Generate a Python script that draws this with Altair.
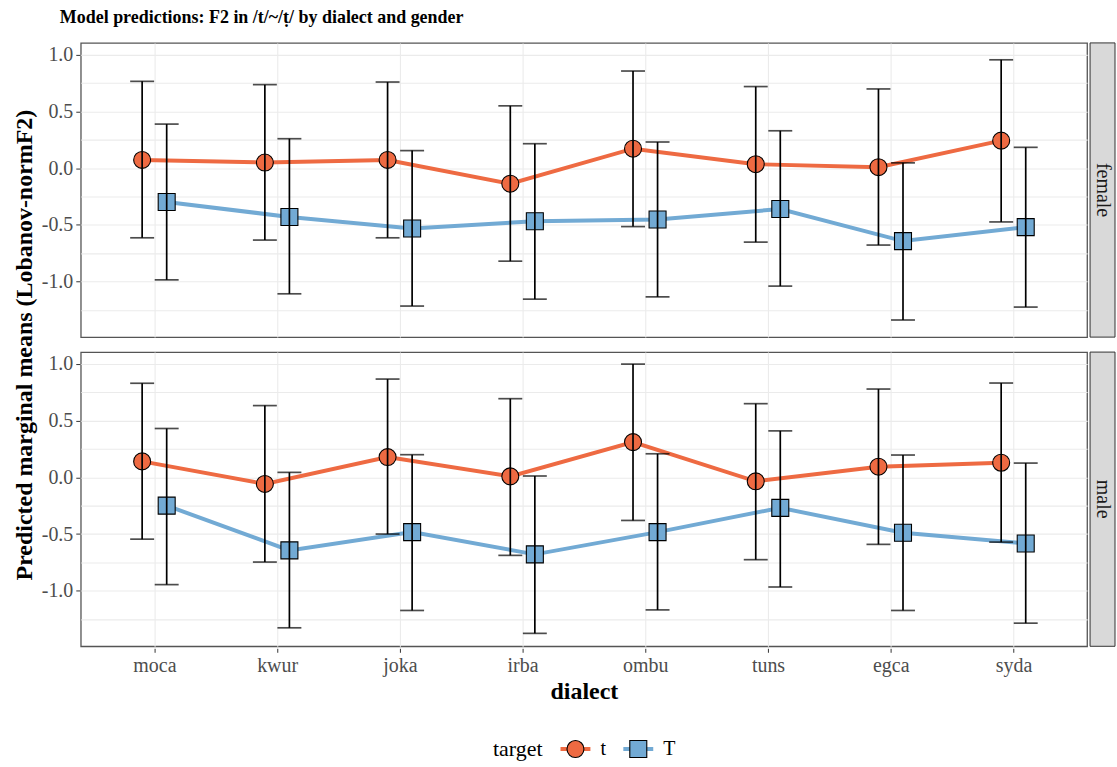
import json
import altair as alt
import pandas as pd

dialects = ["moca", "kwur", "joka", "irba", "ombu", "tuns", "egca", "syda"]
targets = ["t", "T"]
genders = ["female", "male"]

female_t_mean = [0.073, 0.050, 0.073, -0.137, 0.172, 0.035, 0.009, 0.243]
female_t_lower = [-0.614, -0.634, -0.614, -0.820, -0.515, -0.652, -0.678, -0.474]
female_t_upper = [0.766, 0.737, 0.760, 0.550, 0.857, 0.720, 0.699, 0.956]
female_T_mean = [-0.298, -0.430, -0.532, -0.468, -0.453, -0.360, -0.643, -0.520]
female_T_lower = [-0.985, -1.108, -1.216, -1.155, -1.135, -1.040, -1.339, -1.225]
female_T_upper = [0.389, 0.260, 0.155, 0.216, 0.231, 0.330, 0.047, 0.184]

male_t_mean = [0.141, -0.058, 0.179, 0.009, 0.311, -0.035, 0.094, 0.129]
male_t_lower = [-0.545, -0.747, -0.500, -0.688, -0.380, -0.726, -0.591, -0.571]
male_t_upper = [0.830, 0.633, 0.867, 0.694, 0.999, 0.650, 0.779, 0.832]
male_T_mean = [-0.249, -0.644, -0.483, -0.679, -0.483, -0.269, -0.489, -0.583]
male_T_lower = [-0.946, -1.327, -1.174, -1.376, -1.169, -0.967, -1.174, -1.286]
male_T_upper = [0.431, 0.044, 0.200, 0.012, 0.208, 0.410, 0.197, 0.126]

y_all = [-1.25, -1.0, -0.75, -0.5, -0.25, 0.0, 0.25, 0.5, 0.75, 1.0]

series = {
    ("female", "t"): (female_t_mean, female_t_lower, female_t_upper),
    ("female", "T"): (female_T_mean, female_T_lower, female_T_upper),
    ("male", "t"): (male_t_mean, male_t_lower, male_t_upper),
    ("male", "T"): (male_T_mean, male_T_lower, male_T_upper),
}
rows = []
for (g, tg), (m, lo, up) in series.items():
    for i, d in enumerate(dialects):
        rows.append({"gender": g, "target": tg, "dialect": d, "idx": i,
                     "emmean": m[i], "lower": lo[i], "upper": up[i]})
df = pd.DataFrame(rows)

W, H = 1009, 295
LW, LH = 700, 30
ORANGE = "#EE6A42"
BLUE = "#72AAD4"
FONT = "Liberation Serif"
MAJOR_TEST = "indexof([-1,-0.5,0,0.5,1], datum.value) >= 0"

color_scale = alt.Scale(domain=targets, range=[ORANGE, BLUE])
shape_scale = alt.Scale(domain=targets, range=["circle", "square"])

label_expr = json.dumps(dialects) + "[round(datum.value)]"

base = alt.Chart(df).transform_calculate(
    xpos="datum.idx + (datum.target == 't' ? -0.1 : 0.1)"
)

x_enc = alt.X(
    "xpos:Q",
    scale=alt.Scale(domain=[-0.6, 7.6], nice=False, zero=False),
    axis=alt.Axis(values=list(range(len(dialects))), labelExpr=label_expr,
                  title="dialect", tickSize=4, labelPadding=3, titlePadding=4),
)

y_axis = alt.Axis(
    values=y_all,
    labelExpr=f"{MAJOR_TEST} ? replace(format(datum.value, '.1f'), '\u2212', '-') : ''",
    tickOpacity={"condition": {"test": f"!({MAJOR_TEST})", "value": 0}, "value": 1},
    title=None, tickSize=4, labelPadding=3,
)
y_scale = alt.Scale(domain=[-1.49, 1.105], nice=False, zero=False)


def y_enc(field):
    return alt.Y(f"{field}:Q", scale=y_scale, axis=y_axis, title=None)


lines = base.mark_line(strokeWidth=4).encode(
    x=x_enc, y=y_enc("emmean"),
    color=alt.Color("target:N", scale=color_scale, legend=None),
)

points = base.mark_point(filled=True, size=290, stroke="black", strokeWidth=1.1, opacity=1).encode(
    x=x_enc, y=y_enc("emmean"),
    fill=alt.Fill("target:N", scale=color_scale, legend=None),
    shape=alt.Shape("target:N", scale=shape_scale, legend=None),
)

rules = base.mark_rule(color="black", strokeWidth=1.7).encode(
    x=x_enc, y=y_enc("lower"), y2="upper:Q"
)
tick_up = base.mark_tick(orient="horizontal", size=24, thickness=1.7, color="black").encode(
    x=x_enc, y=y_enc("upper")
)
tick_lo = base.mark_tick(orient="horizontal", size=24, thickness=1.7, color="black").encode(
    x=x_enc, y=y_enc("lower")
)

strip_base = base.transform_aggregate(n="count()", groupby=["gender"])
strip_rect = strip_base.mark_rect(fill="#D9D9D9", stroke="#333333", strokeWidth=1).encode(
    x=alt.value(W + 3), x2=alt.value(W + 28), y=alt.value(0), y2=alt.value(H)
)
strip_text = strip_base.mark_text(angle=90, font=FONT, fontSize=20, color="#1A1A1A").encode(
    x=alt.value(W + 16), y=alt.value(H / 2), text="gender:N"
)

layered = alt.layer(lines, points, rules, tick_up, tick_lo, strip_rect, strip_text).properties(
    width=W, height=H
)

panels = layered.facet(
    row=alt.Row(
        "gender:N", sort=genders, title="Predicted marginal means (Lobanov-normF2)",
        header=alt.Header(labels=False, titleFont=FONT, titleFontSize=24, titleFontWeight="bold",
                          titleColor="black", titleOrient="left", titlePadding=-6),
    ),
    spacing=11,
)

# ---- manual legend (line + point keys, like ggplot) ----
legend_df = pd.DataFrame({"target": targets, "order": list(range(len(targets)))})
leg = alt.Chart(legend_df).transform_calculate(
    cx="496 + 63 * datum.order",
    x1="496 + 63 * datum.order - 15",
    x2="496 + 63 * datum.order + 15",
    lx="496 + 63 * datum.order + 25",
)
lx_scale = alt.Scale(domain=[0, LW], range=[0, LW], nice=False, zero=False)
leg_lines = leg.mark_rule(strokeWidth=4).encode(
    x=alt.X("x1:Q", scale=lx_scale, axis=None), x2="x2:Q", y=alt.value(LH / 2),
    color=alt.Color("target:N", scale=color_scale, legend=None),
)
leg_pts = leg.mark_point(filled=True, size=290, stroke="black", strokeWidth=1.1, opacity=1).encode(
    x=alt.X("cx:Q", scale=lx_scale, axis=None), y=alt.value(LH / 2),
    fill=alt.Fill("target:N", scale=color_scale, legend=None),
    shape=alt.Shape("target:N", scale=shape_scale, legend=None),
)
leg_labels = leg.mark_text(align="left", baseline="middle", font=FONT, fontSize=20, color="black").encode(
    x=alt.X("lx:Q", scale=lx_scale, axis=None), y=alt.value(LH / 2), text="target:N",
)
leg_title = alt.Chart(pd.DataFrame({"title": ["target"]})).mark_text(
    align="right", baseline="middle", font=FONT, fontSize=22, color="black"
).encode(x=alt.value(463), y=alt.value(LH / 2), text="title:N")

legend = alt.layer(leg_lines, leg_pts, leg_labels, leg_title).properties(
    width=LW, height=LH, view=alt.ViewConfig(stroke="transparent")
)

chart = alt.vconcat(panels, legend, spacing=30).properties(
    title=alt.TitleParams(
        "Model predictions: F2 in /t/~/\u1e6d/ by dialect and gender",
        anchor="start", font=FONT, fontSize=18, fontWeight="bold", color="black",
        frame="bounds", offset=15, dx=47,
    ),
    padding={"left": 12, "top": 7, "right": 0, "bottom": 0},
).configure_axis(
    labelFont=FONT, titleFont=FONT, labelFontSize=20, titleFontSize=24,
    labelColor="#4D4D4D", titleColor="black", titleFontWeight="bold",
    tickColor="#333333", domain=False, gridColor="#EBEBEB", gridWidth=1.1,
).configure_view(
    stroke="#555555", strokeWidth=1.3
)

chart.save("out.html", embed_options={"renderer": "svg", "actions": False})
